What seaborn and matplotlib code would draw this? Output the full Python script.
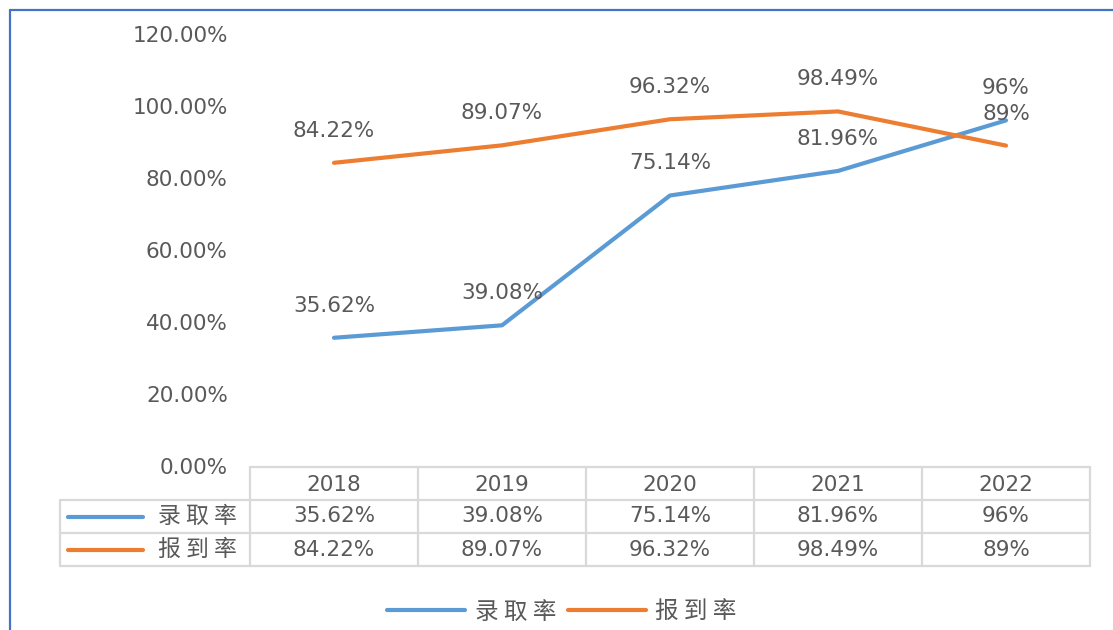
import matplotlib
matplotlib.use("Agg")
import matplotlib.pyplot as plt
from matplotlib.lines import Line2D
import pandas as pd
import seaborn as sns

years = ["2018", "2019", "2020", "2021", "2022"]
admit = [35.62, 39.08, 75.14, 81.96, 96]
report = [84.22, 89.07, 96.32, 98.49, 89]
admit_txt = ["35.62%", "39.08%", "75.14%", "81.96%", "96%"]
report_txt = ["84.22%", "89.07%", "96.32%", "98.49%", "89%"]
series = ["录取率", "报到率"]
yticks = [0, 20, 40, 60, 80, 100, 120]

blue = "#5B9BD5"
orange = "#ED7D31"
grey = "#595959"
grid_c = "#D9D9D9"
fs = 15.5
cjk = ['Noto Sans CJK SC', 'DejaVu Sans']

sns.set_style("white")
plt.rcParams['font.family'] = ['DejaVu Sans', 'Noto Sans CJK SC']

W, H = 1113, 630
fig = plt.figure(figsize=(W / 100, H / 100), dpi=100)

def px_axes(x0, y0, x1, y1):
    return fig.add_axes([x0 / W, 1 - y1 / H, (x1 - x0) / W, (y1 - y0) / H])

def spaced(s):
    return " ".join(s)

# frame border (left + top)
fig.add_artist(Line2D([10 / W, 10 / W], [0, 1 - 10 / H], color="#4472C4", lw=1.6))
fig.add_artist(Line2D([10 / W, 1], [1 - 10 / H, 1 - 10 / H], color="#4472C4", lw=1.6))

df = pd.DataFrame({
    "x": list(range(5)) * 2,
    "value": admit + report,
    "series": [series[0]] * 5 + [series[1]] * 5,
})

ax = px_axes(250, 34, 1090, 466)
sns.lineplot(data=df, x="x", y="value", hue="series", palette=[blue, orange],
             lw=3, ax=ax, legend=False, solid_capstyle="round")
ax.set_xlim(-0.5, 4.5)
ax.set_ylim(0, 120)
ax.set_yticks(yticks)
ax.set_yticklabels([f"{v:.2f}%" for v in yticks], color=grey, fontsize=fs)
ax.tick_params(axis="y", length=0, pad=16)
ax.set_xticks([])
ax.set_xlabel("")
ax.set_ylabel("")
for s in ax.spines.values():
    s.set_visible(False)

for i in range(5):
    ax.annotate(admit_txt[i], (i, admit[i]), xytext=(0, 32), textcoords="offset pixels",
                ha="center", va="center", fontsize=fs, color=grey)
    ax.annotate(report_txt[i], (i, report[i]), xytext=(0, 32), textcoords="offset pixels",
                ha="center", va="center", fontsize=fs, color=grey)

# data table below the plot
lab_w = 190 / 168
tab = px_axes(60, 467, 1090, 566)
tab.set_xlim(-0.5 - lab_w, 4.5)
tab.set_ylim(3, 0)
tab.axis("off")
lk = dict(color=grid_c, lw=1.6, clip_on=False)
tab.plot([-0.5, 4.5], [0, 0], **lk)
for r in (1, 2, 3):
    tab.plot([-0.5 - lab_w, 4.5], [r, r], **lk)
for c in range(6):
    tab.plot([c - 0.5, c - 0.5], [0, 3], **lk)
tab.plot([-0.5 - lab_w] * 2, [1, 3], **lk)

for i, y in enumerate(years):
    tab.text(i, 0.55, y, ha="center", va="center", fontsize=fs, color=grey)
    tab.text(i, 1.5, admit_txt[i], ha="center", va="center", fontsize=fs, color=grey)
    tab.text(i, 2.5, report_txt[i], ha="center", va="center", fontsize=fs, color=grey)

for r, (name, col) in enumerate(zip(series, [blue, orange])):
    x0 = -0.5 - lab_w
    tab.plot([x0 + 8 / 168, x0 + 83 / 168], [1.5 + r, 1.5 + r], color=col, lw=3,
             solid_capstyle="round")
    tab.text(x0 + 137 / 168, 1.5 + r, spaced(name), ha="center", va="center",
             fontsize=16.5, color=grey, family=cjk)

# bottom legend
handles = [Line2D([], [], color=blue, lw=3, solid_capstyle="round"),
           Line2D([], [], color=orange, lw=3, solid_capstyle="round")]
leg = fig.legend(handles, [spaced(s) for s in series], loc="center",
                 bbox_to_anchor=(562 / W, 1 - 612 / H),
                 ncol=2, frameon=False, handlelength=3.3, handletextpad=0.4,
                 columnspacing=0.5, prop={"family": cjk, "size": 17})
for t in leg.get_texts():
    t.set_color(grey)

fig.savefig("out.png", dpi=100)
